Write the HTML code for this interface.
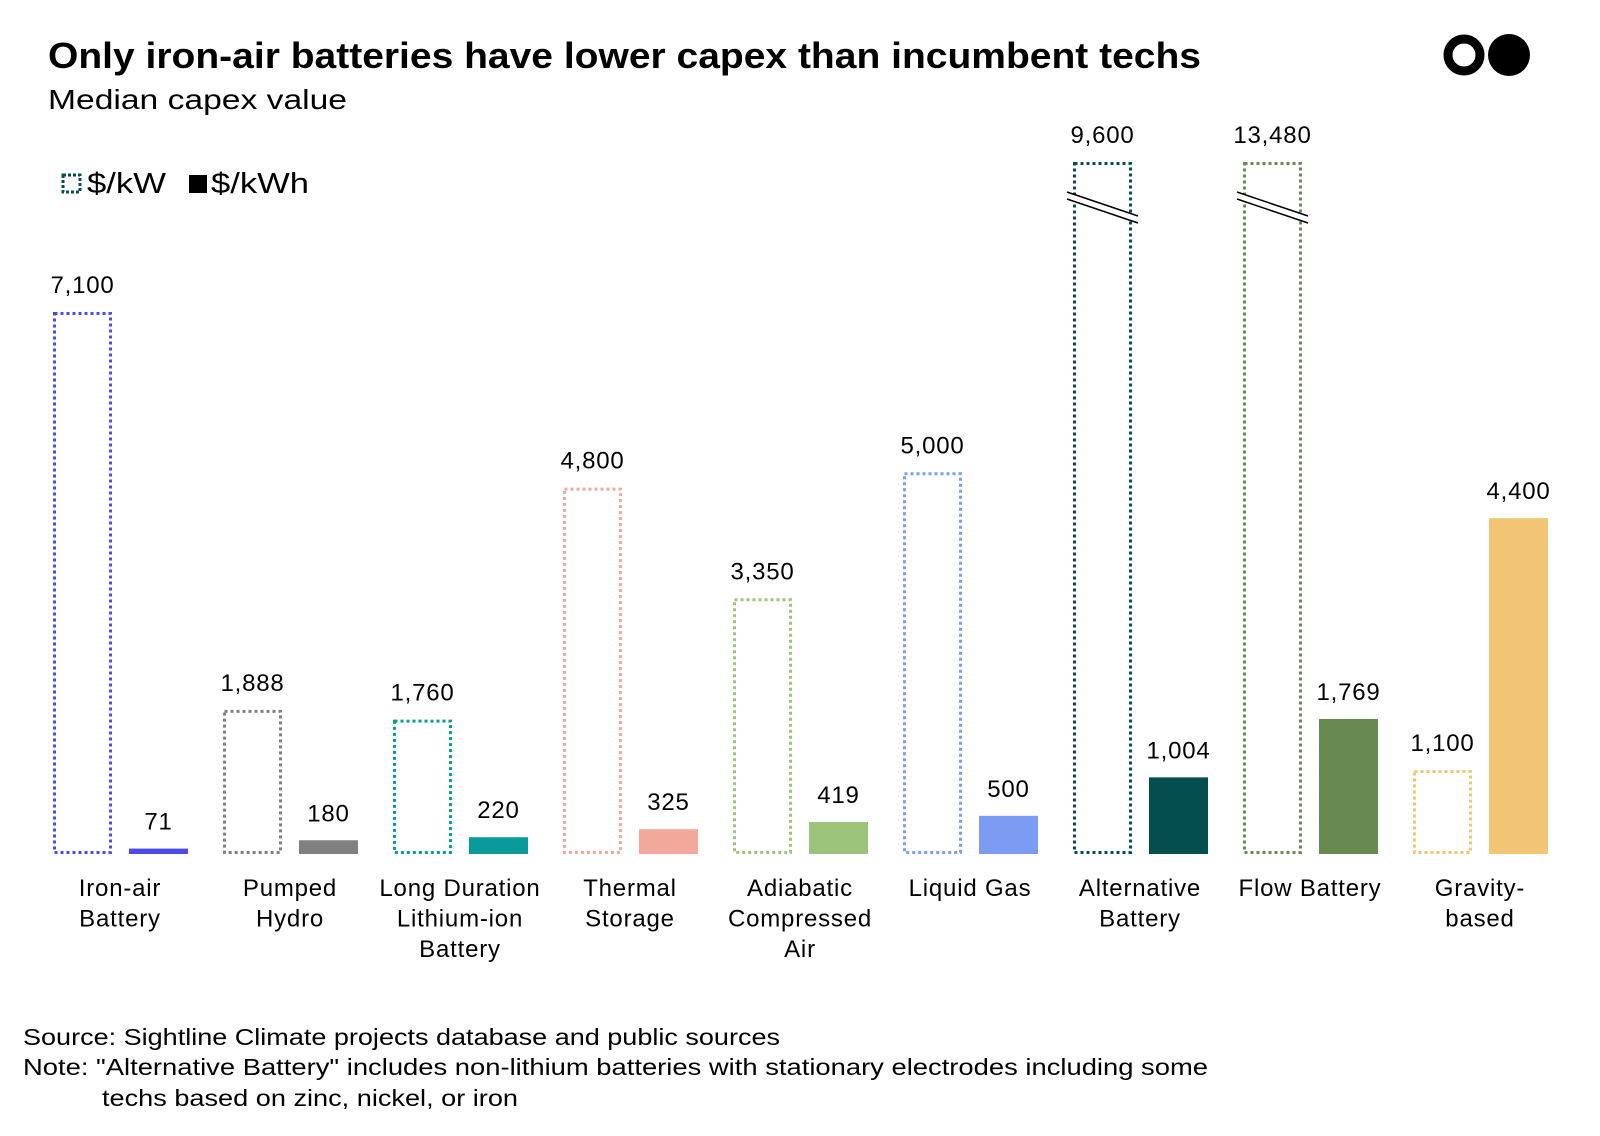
<!DOCTYPE html>
<html><head><meta charset="utf-8"><style>
body{margin:0;background:#fff;width:1600px;height:1131px;overflow:hidden;font-family:"Liberation Sans",sans-serif}
</style></head><body>
<svg id="chart" width="1600" height="1131" xmlns="http://www.w3.org/2000/svg" font-family="Liberation Sans, sans-serif">
<text x="48" y="68" font-size="36" font-weight="bold" fill="#000" textLength="1153" lengthAdjust="spacingAndGlyphs">Only iron-air batteries have lower capex than incumbent techs</text>
<text x="48" y="109" font-size="28" fill="#000" textLength="299" lengthAdjust="spacingAndGlyphs">Median capex value</text>
<g>
<circle cx="1464" cy="55" r="16" fill="none" stroke="#000" stroke-width="9"/>
<circle cx="1509" cy="55" r="21" fill="#000"/>
</g>
<g>
<rect x="63" y="175" width="17" height="17" fill="none" stroke="#044e4e" stroke-width="3" stroke-dasharray="3,2"/>
<text x="87" y="193" font-size="29" textLength="79" lengthAdjust="spacingAndGlyphs">$/kW</text>
<rect x="189" y="175" width="18" height="18" fill="#000"/>
<text x="211" y="193" font-size="29" textLength="98" lengthAdjust="spacingAndGlyphs">$/kWh</text>
</g>
<g id="bars"></g>
<text x="23" y="1045" font-size="23" textLength="757" lengthAdjust="spacingAndGlyphs">Source: Sightline Climate projects database and public sources</text>
<text x="23" y="1075" font-size="23" textLength="1185" lengthAdjust="spacingAndGlyphs">Note: "Alternative Battery" includes non-lithium batteries with stationary electrodes including some</text>
<text x="102" y="1106" font-size="23" textLength="416" lengthAdjust="spacingAndGlyphs">techs based on zinc, nickel, or iron</text>
</svg>
<script>
const categories = [["Iron-air","Battery"],["Pumped","Hydro"],["Long Duration","Lithium-ion","Battery"],["Thermal","Storage"],["Adiabatic","Compressed","Air"],["Liquid Gas"],["Alternative","Battery"],["Flow Battery"],["Gravity-","based"]];
const kwValues = [7100,1888,1760,4800,3350,5000,9600,13480,1100];
const kwhValues = [71,180,220,325,419,500,1004,1769,4400];
const colors = ["#4b4be8","#808080","#0a9a9a","#f2a89a","#9bc47a","#7b9cf2","#044e4e","#668a50","#f2c574"];

const NS="http://www.w3.org/2000/svg";
const baseY=854, scale=(854-312)/7100, capTop=162;
const g=document.getElementById('bars');
function yOf(v){return baseY - v*scale;}
function topOf(v){return v>8000 ? capTop : yOf(v);}
function xOf(i){return 53+170*i;}
const W=59;
function mk(tag,attrs){const e=document.createElementNS(NS,tag);for(const k in attrs)e.setAttribute(k,attrs[k]);g.appendChild(e);return e;}
function fmt(v){return v.toLocaleString('en-US');}
categories.forEach((c,i)=>{
  const x=xOf(i), t=topOf(kwValues[i]);
  const r=mk('rect',{x:x+1.5,y:t+1.5,width:W-3,height:baseY-t-3,fill:'none',stroke:colors[i],'stroke-width':3,'stroke-dasharray':'3,3'});
  
  
  const l=mk('text',{x:x+W/2,y:t-19,'font-size':24,'text-anchor':'middle','letter-spacing':'0.8'});l.textContent=fmt(kwValues[i]);
  
  
  if(kwValues[i]>8000){
    const b=mk('polygon',{points:`${x-6},${192} ${x+W+6},${216} ${x+W+6},${223} ${x-6},${199}`,fill:'#fff'});
    
    
    mk('line',{x1:x-6,y1:192,x2:x+W+6,y2:216,stroke:'#000','stroke-width':1.5});
    mk('line',{x1:x-6,y1:199,x2:x+W+6,y2:223,stroke:'#000','stroke-width':1.5});
  }
  const x2=x+76, t2=yOf(kwhValues[i]);
  const s=mk('rect',{x:x2,y:t2,width:W,height:baseY-t2,fill:colors[i]});
  
  
  const l2=mk('text',{x:x2+W/2,y:t2-19,'font-size':24,'text-anchor':'middle','letter-spacing':'0.8'});l2.textContent=fmt(kwhValues[i]);
  
  
  c.forEach((line,j)=>{
    const tl=mk('text',{x:x+67,y:896+j*30.5,'font-size':24,'text-anchor':'middle','letter-spacing':'0.8'});tl.textContent=line;
    
    
  });
});
</script>
</body></html>
